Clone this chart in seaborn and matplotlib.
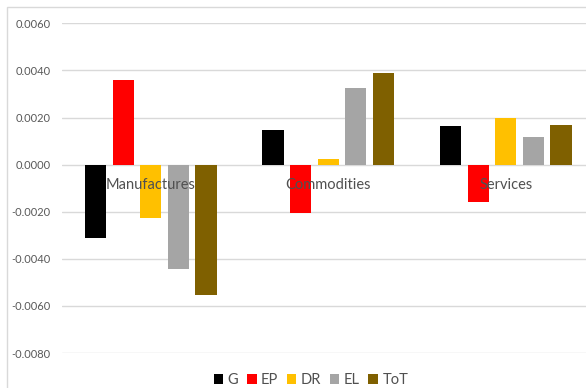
import matplotlib
matplotlib.use("Agg")
import matplotlib.pyplot as plt
from matplotlib.patches import Rectangle
import seaborn as sns
import pandas as pd

# Contribution of each component by sector
sectors = ["Manufactures", "Commodities", "Services"]
components = ["G", "EP", "DR", "EL", "ToT"]
g_vals = [-0.0031, 0.00147, 0.00164]
ep_vals = [0.0036, -0.00205, -0.00158]
dr_vals = [-0.00226, 0.00023, 0.00198]
el_vals = [-0.00445, 0.00324, 0.00117]
tot_vals = [-0.00555, 0.00388, 0.00168]
yticks = [-0.008, -0.006, -0.004, -0.002, 0.0, 0.002, 0.004, 0.006]

palette = ["#000000", "#FF0000", "#FFC000", "#A5A5A5", "#7F6000"]

rows = []
for comp, vals in zip(components, [g_vals, ep_vals, dr_vals, el_vals, tot_vals]):
    for sec, v in zip(sectors, vals):
        rows.append({"sector": sec, "component": comp, "value": v})
df = pd.DataFrame(rows)

sns.set_theme(style="white")
plt.rcParams["font.family"] = ["Lato", "DejaVu Sans"]

W, H = 586, 388
fig = plt.figure(figsize=(W / 100, H / 100), dpi=100)

# axes placed in pixel terms (plot area runs slightly past the right edge)
left_px, right_px, top_px, bottom_px = 62, 594.5, 23.3, 353
ax = fig.add_axes([left_px / W, 1 - bottom_px / H,
                   (right_px - left_px) / W, (bottom_px - top_px) / H])

sns.barplot(data=df, x="sector", y="value", hue="component",
            order=sectors, hue_order=components, palette=palette,
            width=0.775, gap=0.22, saturation=1, ax=ax, legend=True,
            edgecolor="none", zorder=3)

ax.set_xlim(-0.5, 2.5)
ax.set_ylim(-0.008, 0.006)
ax.set_yticks(yticks)
ax.set_yticklabels([f"{t:.4f}" for t in yticks])
ax.yaxis.grid(True, color="#D9D9D9", linewidth=1.0, zorder=0)
ax.set_axisbelow(True)
ax.tick_params(axis="y", length=0, pad=8, labelsize=8, labelcolor="#595959")
ax.set_xticks([])
ax.set_xlabel("")
ax.set_ylabel("")
for s in ax.spines.values():
    s.set_visible(False)

# category labels sit just below the zero line
for i, sec in enumerate(sectors):
    ax.text(i, -0.00085, sec, ha="center", va="center", fontsize=10.5,
            color="#505050", zorder=5)

# legend along the bottom
handles, labels = ax.get_legend_handles_labels()
ax.legend_.remove()
fig.legend(handles, labels, loc="center", bbox_to_anchor=(311 / W, 1 - 380 / H),
           ncol=5, frameon=False, fontsize=10.5, handlelength=0.65,
           handleheight=0.65, handletextpad=0.3, columnspacing=0.6,
           labelcolor="#505050")

# chart border
fig.patches.append(Rectangle((7 / W, -0.1), 1.2, 1 - 7 / H + 0.1,
                             transform=fig.transFigure, fill=False,
                             edgecolor="#D9D9D9", linewidth=1.0))

fig.savefig("out.png", dpi=100)
